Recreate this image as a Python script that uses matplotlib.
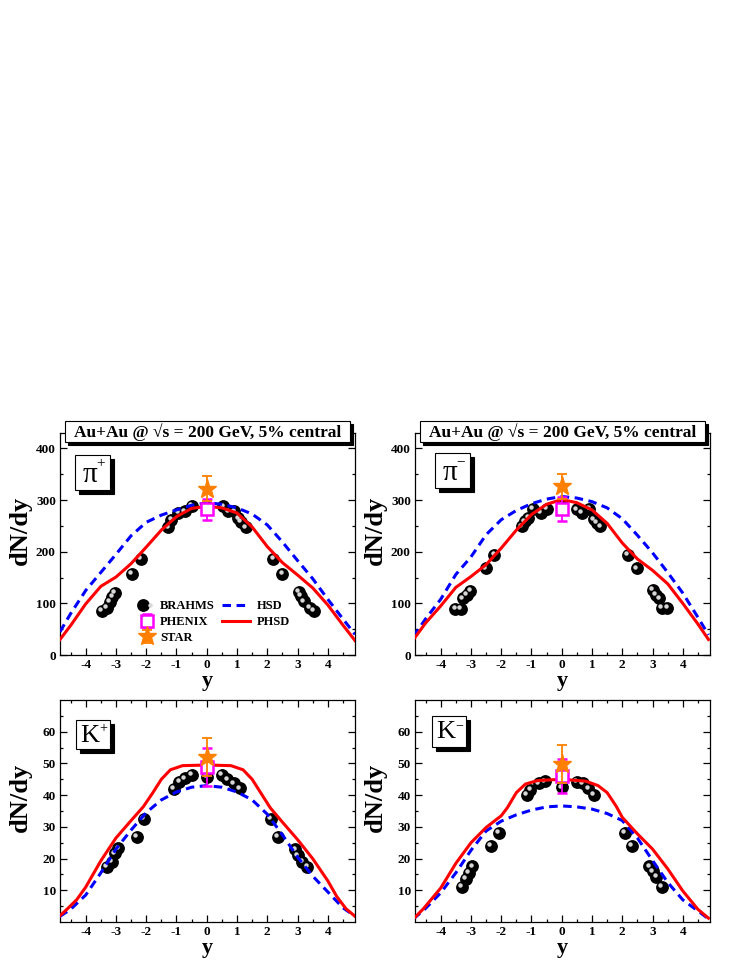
import numpy as np
import matplotlib
matplotlib.use("Agg")
import matplotlib.pyplot as plt
from matplotlib.patches import Rectangle
from matplotlib.transforms import offset_copy
from matplotlib.legend_handler import HandlerTuple

plt.rcParams['font.family'] = ['Liberation Serif', 'DejaVu Serif']
plt.rcParams['font.weight'] = 'bold'
plt.rcParams['axes.labelweight'] = 'bold'
plt.rcParams['axes.unicode_minus'] = False

W, H = 747, 967

# ---------------- data ----------------
# pi+ BRAHMS
pip_b_y = [-3.47, -3.30, -3.21, -3.12, -3.03, -2.48, -2.17, -1.27, -1.17, -0.94, -0.72, -0.50, 0.0,
           0.55, 0.71, 0.91, 1.04, 1.12, 1.29, 2.20, 2.50, 3.05, 3.12, 3.20, 3.41, 3.53]
pip_b_v = [86, 92, 103, 113, 121, 157, 186, 247, 262, 276, 278, 289, 286,
           288, 278, 278, 265, 258, 247, 186, 157, 122, 114, 104, 92, 86]
# pi- BRAHMS
pim_b_y = [-3.52, -3.33, -3.27, -3.13, -3.02, -2.51, -2.23, -1.32, -1.21, -1.10, -0.96, -0.69, -0.49, 0.0,
           0.50, 0.66, 0.91, 1.07, 1.17, 1.27, 2.18, 2.48, 3.01, 3.12, 3.22, 3.30, 3.49]
pim_b_v = [89, 90, 110, 117, 124, 168, 194, 249, 259, 266, 283, 275, 283, 290,
           282, 275, 283, 263, 256, 249, 194, 168, 126, 116, 110, 91, 91]
# K+ BRAHMS
kp_b_y = [-3.30, -3.14, -3.03, -2.92, -2.31, -2.07, -1.08, -0.91, -0.72, -0.50, 0.0,
          0.50, 0.68, 0.90, 1.10, 2.12, 2.34, 2.93, 3.00, 3.16, 3.33]
kp_b_v = [17.4, 19.0, 21.6, 23.2, 26.8, 32.6, 41.9, 44.2, 45.3, 46.3, 45.8,
          46.3, 45.0, 43.7, 42.1, 32.6, 26.8, 22.9, 21.0, 19.0, 17.4]
# K- BRAHMS
km_b_y = [-3.30, -3.16, -3.08, -2.95, -2.34, -2.09, -1.16, -1.04, -0.75, -0.55, 0.0,
          0.50, 0.69, 0.88, 1.07, 2.09, 2.31, 2.89, 3.00, 3.13, 3.30]
km_b_v = [11.0, 13.7, 15.5, 17.6, 24.0, 28.2, 40.0, 41.6, 43.7, 44.4, 42.5,
          44.2, 43.7, 42.1, 40.0, 28.2, 24.0, 17.6, 16.0, 14.2, 11.0]

# PHENIX / STAR at y = 0 : value, error
phenix = {'pip': (282, 20), 'pim': (283, 24), 'kp': (49.0, 6.0), 'km': (46.0, 5.3)}
star = {'pip': (322, 24), 'pim': (327, 24), 'kp': (52.0, 6.0), 'km': (49.7, 6.0)}

# model curves
pip_phsd_y = [-4.85, -4.5, -4.0, -3.5, -3.0, -2.5, -2.0, -1.5, -1.0, -0.5, 0.0,
              0.5, 1.0, 1.5, 2.0, 2.5, 3.0, 3.5, 4.0, 4.5, 4.9]
pip_phsd_v = [30, 57, 99, 133, 151, 177, 209, 242, 268, 284, 288,
              285, 275, 248, 210, 179, 155, 130, 97, 58, 28]
pip_hsd_y = [-4.85, -4.5, -4.0, -3.5, -3.0, -2.5, -2.0, -1.5, -1.0, -0.5, 0.0,
             0.5, 1.0, 1.5, 2.0, 2.5, 3.0, 3.5, 4.0, 4.5, 4.9]
pip_hsd_v = [45, 80, 125, 160, 195, 231, 257, 271, 281, 290, 295,
             292, 285, 273, 252, 219, 183, 148, 108, 70, 40]

pim_phsd_y = [-4.9, -4.5, -4.0, -3.5, -3.0, -2.5, -2.0, -1.5, -1.0, -0.5, 0.0,
              0.5, 1.0, 1.5, 2.0, 2.5, 3.0, 3.5, 4.0, 4.5, 4.85]
pim_phsd_v = [30, 62, 95, 131, 152, 175, 207, 242, 272, 292, 301,
              295, 281, 255, 217, 186, 164, 138, 100, 60, 30]
pim_hsd_y = [-4.9, -4.5, -4.0, -3.5, -3.0, -2.5, -2.0, -1.5, -1.0, -0.5, 0.0,
             0.5, 1.0, 1.5, 2.0, 2.5, 3.0, 3.5, 4.0, 4.5, 4.85]
pim_hsd_v = [36, 70, 108, 156, 190, 233, 262, 280, 293, 302, 307,
             304, 297, 285, 264, 232, 198, 160, 120, 73, 39]

kp_phsd_y = [-4.85, -4.6, -4.3, -4.0, -3.5, -3.0, -2.5, -2.1, -1.8, -1.5, -1.2, -0.8, 0.0,
             0.8, 1.2, 1.5, 1.8, 2.1, 2.5, 3.0, 3.5, 4.0, 4.3, 4.6, 4.9]
kp_phsd_v = [2.0, 4.2, 7.0, 11.0, 19.3, 26.5, 32.0, 36.3, 40.5, 45.0, 48.0, 49.3, 49.5,
             49.3, 48.0, 45.0, 40.5, 36.0, 31.5, 26.0, 20.0, 13.0, 8.0, 4.2, 1.8]
kp_hsd_y = [-4.85, -4.5, -4.0, -3.5, -3.0, -2.5, -2.0, -1.5, -1.0, -0.5, 0.0,
            0.5, 1.0, 1.5, 2.0, 2.5, 3.0, 3.5, 4.0, 4.5, 4.9]
kp_hsd_v = [1.8, 4.0, 8.5, 15.5, 23.0, 29.0, 34.5, 38.5, 41.0, 42.5, 43.0,
            42.5, 41.0, 38.5, 34.0, 27.5, 20.5, 14.5, 9.5, 4.5, 1.8]

km_phsd_y = [-4.9, -4.57, -4.0, -3.5, -3.0, -2.5, -2.0, -1.8, -1.5, -1.2, -0.8, 0.0,
             0.8, 1.2, 1.5, 1.8, 2.0, 2.5, 3.0, 3.5, 4.0, 4.5, 4.85]
km_phsd_v = [1.0, 4.2, 10.7, 18.5, 25.0, 29.8, 33.5, 36.0, 40.8, 43.5, 44.6, 45.0,
             44.4, 43.0, 40.8, 36.5, 33.0, 27.8, 23.0, 16.8, 9.8, 4.0, 1.2]
km_hsd_y = [-4.9, -4.5, -4.0, -3.5, -3.0, -2.5, -2.0, -1.5, -1.0, -0.5, 0.0,
            0.5, 1.0, 1.5, 2.0, 2.5, 3.0, 3.5, 4.0, 4.5, 4.85]
km_hsd_v = [1.0, 4.3, 9.2, 15.5, 22.6, 28.7, 31.8, 33.8, 35.3, 36.3, 36.6,
            36.3, 35.6, 34.2, 32.0, 26.5, 19.4, 12.5, 7.0, 3.5, 1.0]

x_ticks = [-4, -3, -2, -1, 0, 1, 2, 3, 4]
pi_yticks = [0, 100, 200, 300, 400]
k_yticks = [10, 20, 30, 40, 50, 60]

title_text = "Au+Au @ \u221as = 200 GeV, 5% central"

# ---------------- figure ----------------
fig = plt.figure(figsize=(W / 100, H / 100), dpi=100)


def fx(x):
    return x / W


def fy(y):
    return 1 - y / H


def axes_at(l, t, r, b):
    return fig.add_axes([fx(l), fy(b), (r - l) / W, (b - t) / H])


panels = [
    dict(key='pip', box=(60, 433, 355, 655), b=(pip_b_y, pip_b_v),
         hsd=(pip_hsd_y, pip_hsd_v), phsd=(pip_phsd_y, pip_phsd_v),
         ylim=(0, 430), yt=pi_yticks, minor=50, lab=('\u03c0', '+'), lbox=(75, 455, 110, 490), title=(65, 421, 350, 442)),
    dict(key='pim', box=(415, 433, 710, 655), b=(pim_b_y, pim_b_v),
         hsd=(pim_hsd_y, pim_hsd_v), phsd=(pim_phsd_y, pim_phsd_v),
         ylim=(0, 430), yt=pi_yticks, minor=50, lab=('\u03c0', '\u2212'), lbox=(435, 453, 470, 488), title=(420, 421, 705, 442)),
    dict(key='kp', box=(60, 700, 355, 922), b=(kp_b_y, kp_b_v),
         hsd=(kp_hsd_y, kp_hsd_v), phsd=(kp_phsd_y, kp_phsd_v),
         ylim=(0, 70), yt=k_yticks, minor=5, lab=('K', '+'), lbox=(76, 720, 110, 749), title=None),
    dict(key='km', box=(415, 700, 710, 922), b=(km_b_y, km_b_v),
         hsd=(km_hsd_y, km_hsd_v), phsd=(km_phsd_y, km_phsd_v),
         ylim=(0, 70), yt=k_yticks, minor=5, lab=('K', '\u2212'), lbox=(432, 716, 466, 747), title=None),
]

handles = {}
for p in panels:
    ax = axes_at(*p['box'])
    ax.set_xlim(-4.85, 4.9)
    ax.set_ylim(*p['ylim'])
    ax.set_xticks(x_ticks)
    ax.set_xticks(np.arange(-4.5, 4.9, 0.5), minor=True)
    ax.set_yticks(p['yt'])
    ax.set_yticks(np.arange(p['minor'], p['ylim'][1], p['minor']), minor=True)
    ax.tick_params(which='both', direction='in', top=True, right=True, width=0.9)
    ax.tick_params(which='major', length=5, labelsize=9.5, pad=3)
    ax.tick_params(which='minor', length=2.5)
    for lbl in ax.get_xticklabels() + ax.get_yticklabels():
        lbl.set_fontweight('bold')
    for s in ax.spines.values():
        s.set_linewidth(0.9)
    ax.set_xlabel('y', fontsize=16, fontweight='bold', labelpad=0)
    ax.xaxis.set_label_coords(0.5, -0.07)
    ax.set_ylabel('dN/dy', fontsize=19, fontweight='bold')
    ax.yaxis.set_label_coords(-0.095, 0.56)

    by, bv = p['b']
    hb, = ax.plot(by, bv, 'o', color='black', ms=8.2, zorder=2, linestyle='none')
    hl = ax.plot(by, bv, 'o', color='#d8d8d8', ms=2.2, zorder=2.1, linestyle='none',
                 transform=offset_copy(ax.transData, fig=fig, x=-1.2, y=1.2, units='points'))[0]
    hh, = ax.plot(*p['hsd'], color='#0000FF', lw=2.2, linestyle=(0, (2.8, 1.8)), zorder=3)
    hp, = ax.plot(*p['phsd'], color='#FF0000', lw=2.2, zorder=3.1)
    pv, pe = phenix[p['key']]
    he = ax.errorbar([0], [pv], yerr=[pe], fmt='s', mfc='white', mec='#FF00FF', mew=1.8, ms=8,
                     ecolor='#FF00FF', elinewidth=1.3, capsize=3.5, capthick=1.3, zorder=4)
    sv, se = star[p['key']]
    hs = ax.errorbar([0], [sv], yerr=[se], fmt='*', color='#FF8000', ms=14, mec='#FF8000',
                     ecolor='#FF8000', elinewidth=1.3, capsize=3.5, capthick=1.3, zorder=5)
    if p['key'] == 'pip':
        handles = dict(b=(hb, hl), h=hh, p=hp, ph=he, st=hs, ax=ax)

    # particle label box with shadow
    l, t, r, b = p['lbox']
    fig.add_artist(Rectangle((fx(l + 4), fy(b + 4)), (r - l) / W, (b - t) / H,
                             transform=fig.transFigure, facecolor='black', edgecolor='black', lw=0.8, zorder=5))
    fig.add_artist(Rectangle((fx(l), fy(b)), (r - l) / W, (b - t) / H,
                             transform=fig.transFigure, facecolor='white', edgecolor='black', lw=0.8, zorder=6))
    main, sup = p['lab']
    cx = (l + r) / 2
    cy = (t + b) / 2
    if main == 'K':
        fig.text(fx(cx - 3), fy(cy + 1), main, fontsize=19, fontweight='normal',
                 ha='center', va='center', zorder=7)
        fig.text(fx(cx + 10), fy(cy - 6), sup, fontsize=10, fontweight='normal',
                 ha='center', va='center', zorder=7)
    else:
        fig.text(fx(cx - 3), fy(cy + 2), main, fontsize=21, fontweight='normal',
                 ha='center', va='center', zorder=7)
        fig.text(fx(cx + 8), fy(cy - 9), sup, fontsize=11, fontweight='normal',
                 ha='center', va='center', zorder=7)

    if p['title'] is not None:
        l, t, r, b = p['title']
        fig.add_artist(Rectangle((fx(l + 3), fy(b + 3)), (r - l) / W, (b - t) / H,
                                 transform=fig.transFigure, facecolor='black', edgecolor='black', lw=0.8, zorder=5))
        fig.add_artist(Rectangle((fx(l), fy(b)), (r - l) / W, (b - t) / H,
                                 transform=fig.transFigure, facecolor='white', edgecolor='black', lw=0.8, zorder=6))
        fig.text(fx((l + r) / 2), fy((t + b) / 2 + 0.5), title_text, fontsize=12.5, fontweight='bold',
                 ha='center', va='center', zorder=7)

# legends in pi+ panel
ax0 = handles['ax']


def ax_frac(x, y):
    return ((x - 60) / 295, (655 - y) / 222)


leg1 = ax0.legend([handles['b'], handles['ph'], handles['st']], ['BRAHMS', 'PHENIX', 'STAR'],
                  handler_map={tuple: HandlerTuple(ndivide=None, pad=0)},
                  loc='center left', bbox_to_anchor=ax_frac(140, 622), frameon=False,
                  handlelength=1.1, handletextpad=0.5, labelspacing=0.3,
                  borderpad=0, borderaxespad=0, prop={'weight': 'bold', 'size': 9})
ax0.add_artist(leg1)
leg2 = ax0.legend([handles['h'], handles['p']], ['HSD', 'PHSD'],
                  loc='center left', bbox_to_anchor=ax_frac(222, 614), frameon=False,
                  handlelength=2.2, handletextpad=0.55, labelspacing=0.3,
                  borderpad=0, borderaxespad=0, prop={'weight': 'bold', 'size': 9})

fig.savefig('out.png', dpi=100)
